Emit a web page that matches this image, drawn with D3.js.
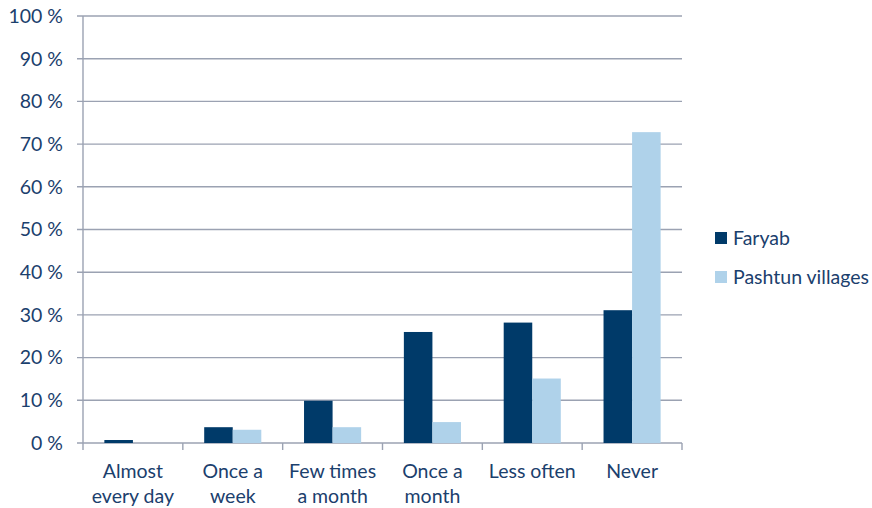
<!DOCTYPE html>
<html>
<head>
<meta charset="utf-8">
<script src="https://cdn.jsdelivr.net/npm/d3@7"></script>
<style>
  html, body { margin: 0; padding: 0; background: #fff; }
  svg { display: block; font-family: Lato, "Open Sans", sans-serif; }
</style>
</head>
<body>
<svg id="chart" width="872" height="508"></svg>
<script>
// Frequency categories (two-line labels)
const categories = ["Almost|every day", "Once a|week", "Few times|a month", "Once a|month", "Less often", "Never"];
const seriesNames = ["Faryab", "Pashtun villages"];
const faryab = [0.7, 3.7, 9.9, 26.0, 28.2, 31.1];
const pashtun = [0.0, 3.1, 3.7, 4.9, 15.1, 72.8];
const yTicks = [0, 10, 20, 30, 40, 50, 60, 70, 80, 90, 100];
const colors = ["#003a69", "#afd2ea"];

const values = [faryab, pashtun];
const textColor = "#1b406d";
const lineColor = "#9ba2b2";
const fontSize = 19.5;

const svg = d3.select("#chart");
const m = { left: 83, right: 682, top: 16, bottom: 443 };

const x0 = d3.scaleBand().domain(categories).range([m.left, m.right]).padding(0);
const bw = x0.bandwidth();
const x1 = d3.scaleBand().domain(seriesNames).range([bw * 0.214, bw * 0.786]).padding(0);
const y = d3.scaleLinear().domain([0, 100]).range([m.bottom, m.top]);

// gridlines
svg.append("g")
  .selectAll("line")
  .data(yTicks)
  .join("line")
  .attr("x1", m.left - 6).attr("x2", m.right)
  .attr("y1", d => y(d)).attr("y2", d => y(d))
  .attr("stroke", lineColor).attr("stroke-width", 1.4);

// y axis labels
svg.append("g")
  .selectAll("text")
  .data(yTicks)
  .join("text")
  .attr("x", 63).attr("y", d => y(d))
  .attr("dy", "0.35em")
  .attr("text-anchor", "end")
  .attr("fill", textColor)
  .attr("font-size", fontSize)
  .text(d => d + " %");

// bars
const groups = svg.append("g")
  .selectAll("g")
  .data(categories)
  .join("g")
  .attr("transform", d => `translate(${x0(d)},0)`);

groups.selectAll("rect")
  .data((d, i) => seriesNames.map((s, j) => ({ s, v: values[j][i], j })))
  .join("rect")
  .attr("x", d => x1(d.s))
  .attr("width", x1.bandwidth())
  .attr("y", d => y(d.v))
  .attr("height", d => y(0) - y(d.v))
  .attr("fill", d => colors[d.j]);

// y axis line
svg.append("line")
  .attr("x1", m.left).attr("x2", m.left)
  .attr("y1", m.top).attr("y2", m.bottom + 7)
  .attr("stroke", lineColor).attr("stroke-width", 1.4);

// category tick marks
const bounds = categories.map(c => x0(c)).concat([m.right]);
svg.append("g")
  .selectAll("line")
  .data(bounds.slice(1))
  .join("line")
  .attr("x1", d => d).attr("x2", d => d)
  .attr("y1", m.bottom).attr("y2", m.bottom + 7)
  .attr("stroke", lineColor).attr("stroke-width", 1.4);

// category labels
const labels = svg.append("g")
  .selectAll("text")
  .data(categories)
  .join("text")
  .attr("x", d => x0(d) + bw / 2)
  .attr("y", 471.5)
  .attr("text-anchor", "middle")
  .attr("fill", textColor)
  .attr("font-size", fontSize);
labels.each(function(d) {
  const parts = d.split("|");
  d3.select(this).selectAll("tspan")
    .data(parts)
    .join("tspan")
    .attr("x", x0(d) + bw / 2)
    .attr("dy", (p, i) => i === 0 ? "0.35em" : 25)
    .text(p => p);
});

// legend
const legend = svg.append("g")
  .selectAll("g")
  .data(seriesNames)
  .join("g")
  .attr("transform", (d, i) => `translate(715,${238 + i * 39})`);
legend.append("rect")
  .attr("x", 0).attr("y", -6).attr("width", 12).attr("height", 12)
  .attr("fill", (d, i) => colors[i]);
legend.append("text")
  .attr("x", 18).attr("y", 0).attr("dy", "0.35em")
  .attr("fill", textColor)
  .attr("font-size", fontSize)
  .text(d => d);
</script>
</body>
</html>
